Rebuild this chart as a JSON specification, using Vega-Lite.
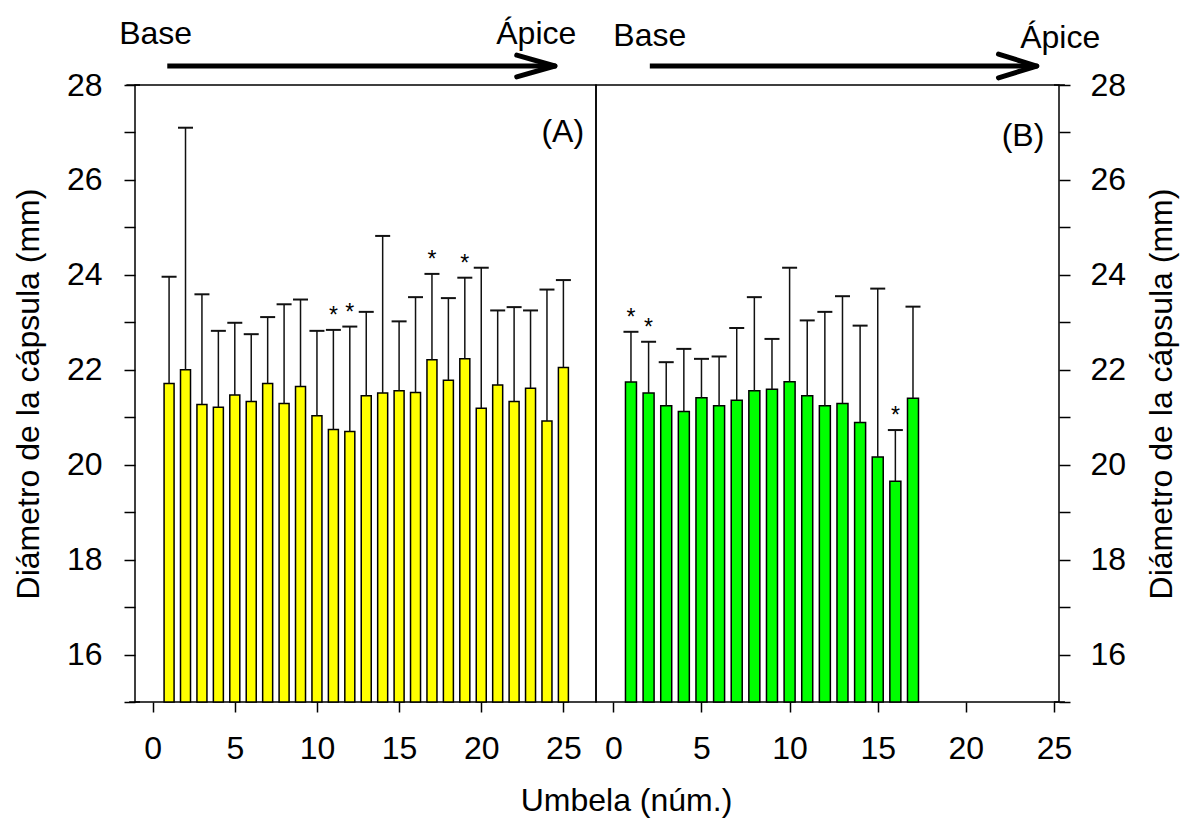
{
  "$schema": "https://vega.github.io/schema/vega-lite/v6.json",
  "background": "white",
  "padding": {"left": 11, "top": 17, "right": 5, "bottom": 5},
  "spacing": 0,
  "bounds": "flush",
  "config": {
    "view": {"stroke": "black", "strokeWidth": 1.5},
    "font": "Liberation Sans",
    "axis": {
      "grid": false, "domain": false, "tickColor": "black", "tickWidth": 1.5, "tickSize": 11,
      "labelFont": "Liberation Sans", "labelFontSize": 32, "labelColor": "black",
      "titleFont": "Liberation Sans", "titleFontSize": 32, "titleFontWeight": "normal", "titleColor": "black",
      "labelFlush": false, "labelOverlap": false
    }
  },
  "datasets": {
    "A": [
      {"umbela": 1, "media": 21.71, "sup": 23.96, "sig": false},
      {"umbela": 2, "media": 22.00, "sup": 27.10, "sig": false},
      {"umbela": 3, "media": 21.27, "sup": 23.59, "sig": false},
      {"umbela": 4, "media": 21.21, "sup": 22.82, "sig": false},
      {"umbela": 5, "media": 21.47, "sup": 22.99, "sig": false},
      {"umbela": 6, "media": 21.33, "sup": 22.75, "sig": false},
      {"umbela": 7, "media": 21.71, "sup": 23.11, "sig": false},
      {"umbela": 8, "media": 21.29, "sup": 23.38, "sig": false},
      {"umbela": 9, "media": 21.65, "sup": 23.48, "sig": false},
      {"umbela": 10, "media": 21.03, "sup": 22.82, "sig": false},
      {"umbela": 11, "media": 20.74, "sup": 22.84, "sig": true},
      {"umbela": 12, "media": 20.70, "sup": 22.91, "sig": true},
      {"umbela": 13, "media": 21.45, "sup": 23.22, "sig": false},
      {"umbela": 14, "media": 21.51, "sup": 24.82, "sig": false},
      {"umbela": 15, "media": 21.56, "sup": 23.02, "sig": false},
      {"umbela": 16, "media": 21.52, "sup": 23.53, "sig": false},
      {"umbela": 17, "media": 22.21, "sup": 24.02, "sig": true},
      {"umbela": 18, "media": 21.78, "sup": 23.51, "sig": false},
      {"umbela": 19, "media": 22.23, "sup": 23.94, "sig": true},
      {"umbela": 20, "media": 21.19, "sup": 24.15, "sig": false},
      {"umbela": 21, "media": 21.68, "sup": 23.25, "sig": false},
      {"umbela": 22, "media": 21.33, "sup": 23.32, "sig": false},
      {"umbela": 23, "media": 21.61, "sup": 23.25, "sig": false},
      {"umbela": 24, "media": 20.92, "sup": 23.69, "sig": false},
      {"umbela": 25, "media": 22.05, "sup": 23.89, "sig": false}
    ],
    "B": [
      {"umbela": 1, "media": 21.74, "sup": 22.80, "sig": true},
      {"umbela": 2, "media": 21.51, "sup": 22.59, "sig": true},
      {"umbela": 3, "media": 21.24, "sup": 22.16, "sig": false},
      {"umbela": 4, "media": 21.12, "sup": 22.44, "sig": false},
      {"umbela": 5, "media": 21.41, "sup": 22.23, "sig": false},
      {"umbela": 6, "media": 21.24, "sup": 22.28, "sig": false},
      {"umbela": 7, "media": 21.36, "sup": 22.88, "sig": false},
      {"umbela": 8, "media": 21.56, "sup": 23.53, "sig": false},
      {"umbela": 9, "media": 21.59, "sup": 22.65, "sig": false},
      {"umbela": 10, "media": 21.75, "sup": 24.15, "sig": false},
      {"umbela": 11, "media": 21.45, "sup": 23.04, "sig": false},
      {"umbela": 12, "media": 21.24, "sup": 23.22, "sig": false},
      {"umbela": 13, "media": 21.29, "sup": 23.55, "sig": false},
      {"umbela": 14, "media": 20.89, "sup": 22.93, "sig": false},
      {"umbela": 15, "media": 20.16, "sup": 23.71, "sig": false},
      {"umbela": 16, "media": 19.65, "sup": 20.73, "sig": true},
      {"umbela": 17, "media": 21.40, "sup": 23.33, "sig": false}
    ]
  },
  "hconcat": [
    {
      "width": 461,
      "height": 617,
      "data": {"name": "A"},
      "layer": [
        {
          "mark": {"type": "bar", "fill": "#FFFF00", "stroke": "black", "strokeWidth": 1.5, "size": 10},
          "encoding": {
            "x": {"field": "umbela", "type": "quantitative",
              "scale": {"domain": [-0.77, 26.68], "nice": false, "zero": false},
              "axis": {"values": [0, 5, 10, 15, 20, 25], "tickSize": 10, "labelPadding": 21,
                "title": "Umbela (núm.)", "titleX": 491, "titleY": 98, "titleBaseline": "middle", "titleAlign": "center", "titleAnchor": null}},
            "y": {"field": "media", "type": "quantitative",
              "scale": {"domain": [15, 28], "nice": false, "zero": false},
              "axis": {"values": [15, 16, 17, 18, 19, 20, 21, 22, 23, 24, 25, 26, 27, 28],
                "labelExpr": "datum.value % 2 == 0 ? datum.label : ''",
                "labelPadding": 22, "title": "Diámetro de la cápsula (mm)", "titlePadding": 21}},
            "y2": {"datum": 15}
          }
        },
        {
          "mark": {"type": "rule", "stroke": "#111111", "strokeWidth": 1.5},
          "encoding": {
            "x": {"field": "umbela", "type": "quantitative"},
            "y": {"field": "media", "type": "quantitative"},
            "y2": {"field": "sup"}
          }
        },
        {
          "mark": {"type": "rule", "stroke": "#111111", "strokeWidth": 2, "xOffset": -7.5, "x2Offset": 7.5},
          "encoding": {
            "x": {"field": "umbela", "type": "quantitative"},
            "x2": {"field": "umbela"},
            "y": {"field": "sup", "type": "quantitative"}
          }
        },
        {
          "transform": [{"filter": "datum.sig"}],
          "mark": {"type": "text", "text": "*", "fontSize": 23, "baseline": "alphabetic", "align": "center", "dy": -7, "color": "black"},
          "encoding": {
            "x": {"field": "umbela", "type": "quantitative"},
            "y": {"field": "sup", "type": "quantitative"}
          }
        },
        {
          "data": {"values": [{}]},
          "mark": {"type": "rule", "stroke": "black", "strokeWidth": 1.5},
          "encoding": {"x": {"datum": -1.43}, "x2": {"datum": -0.77}, "y": {"datum": 15}, "y2": {"datum": 15}}
        },
        {
          "data": {"values": [{}]},
          "mark": {"type": "rule", "stroke": "black", "strokeWidth": 1.5},
          "encoding": {"x": {"datum": -1.6}, "x2": {"datum": -0.77}, "y": {"datum": 28}, "y2": {"datum": 28}}
        },
        {
          "data": {"values": [{}]},
          "mark": {"type": "text", "text": "Base", "fontSize": 32, "baseline": "middle", "align": "center", "color": "black"},
          "encoding": {"x": {"datum": 0.18}, "y": {"datum": 29.07}}
        },
        {
          "data": {"values": [{}]},
          "mark": {"type": "text", "text": "Ápice", "fontSize": 32, "baseline": "middle", "align": "center", "color": "black"},
          "encoding": {"x": {"datum": 23.35}, "y": {"datum": 29.07}}
        },
        {
          "data": {"values": [{}]},
          "mark": {"type": "text", "text": "(A)", "fontSize": 32, "baseline": "middle", "align": "center", "color": "black"},
          "encoding": {"x": {"datum": 24.96}, "y": {"datum": 27.01}}
        },
        {
          "data": {"values": [{}]},
          "mark": {"type": "rule", "stroke": "black", "strokeWidth": 5},
          "encoding": {"x": {"datum": 0.89}, "x2": {"datum": 24.4}, "y": {"datum": 28.40}, "y2": {"datum": 28.40}}
        },
        {
          "data": {"values": [{}]},
          "mark": {"type": "rule", "stroke": "black", "strokeWidth": 5, "strokeCap": "round"},
          "encoding": {"x": {"datum": 22.16}, "x2": {"datum": 24.48}, "y": {"datum": 28.63}, "y2": {"datum": 28.40}}
        },
        {
          "data": {"values": [{}]},
          "mark": {"type": "rule", "stroke": "black", "strokeWidth": 5, "strokeCap": "round"},
          "encoding": {"x": {"datum": 22.16}, "x2": {"datum": 24.48}, "y": {"datum": 28.17}, "y2": {"datum": 28.40}}
        }
      ]
    },
    {
      "width": 463,
      "height": 617,
      "data": {"name": "B"},
      "layer": [
        {
          "mark": {"type": "bar", "fill": "#00FF00", "stroke": "black", "strokeWidth": 1.5, "size": 11},
          "encoding": {
            "x": {"field": "umbela", "type": "quantitative",
              "scale": {"domain": [-0.7, 25], "nice": false, "zero": false},
              "axis": {"values": [0, 5, 10, 15, 20, 25], "tickSize": 10, "labelPadding": 21, "title": null}},
            "y": {"field": "media", "type": "quantitative",
              "scale": {"domain": [15, 28], "nice": false, "zero": false},
              "axis": {"orient": "right", "values": [15, 16, 17, 18, 19, 20, 21, 22, 23, 24, 25, 26, 27, 28],
                "labelExpr": "datum.value % 2 == 0 ? datum.label : ''",
                "labelPadding": 20, "title": "Diámetro de la cápsula (mm)", "titlePadding": 21,
                "titleAngle": 270, "titleBaseline": "top"}},
            "y2": {"datum": 15}
          }
        },
        {
          "mark": {"type": "rule", "stroke": "#111111", "strokeWidth": 1.5},
          "encoding": {
            "x": {"field": "umbela", "type": "quantitative"},
            "y": {"field": "media", "type": "quantitative"},
            "y2": {"field": "sup"}
          }
        },
        {
          "mark": {"type": "rule", "stroke": "#111111", "strokeWidth": 2, "xOffset": -7.5, "x2Offset": 7.5},
          "encoding": {
            "x": {"field": "umbela", "type": "quantitative"},
            "x2": {"field": "umbela"},
            "y": {"field": "sup", "type": "quantitative"}
          }
        },
        {
          "transform": [{"filter": "datum.sig"}],
          "mark": {"type": "text", "text": "*", "fontSize": 23, "baseline": "alphabetic", "align": "center", "dy": -7, "color": "black"},
          "encoding": {
            "x": {"field": "umbela", "type": "quantitative"},
            "y": {"field": "sup", "type": "quantitative"}
          }
        },
        {
          "data": {"values": [{}]},
          "mark": {"type": "rule", "stroke": "black", "strokeWidth": 1.5},
          "encoding": {"x": {"datum": 25}, "x2": {"datum": 25.62}, "y": {"datum": 15}, "y2": {"datum": 15}}
        },
        {
          "data": {"values": [{}]},
          "mark": {"type": "rule", "stroke": "black", "strokeWidth": 1.5},
          "encoding": {"x": {"datum": 25}, "x2": {"datum": 25.62}, "y": {"datum": 28}, "y2": {"datum": 28}}
        },
        {
          "data": {"values": [{}]},
          "mark": {"type": "text", "text": "Base", "fontSize": 32, "baseline": "middle", "align": "center", "color": "black"},
          "encoding": {"x": {"datum": 2.07}, "y": {"datum": 29.03}}
        },
        {
          "data": {"values": [{}]},
          "mark": {"type": "text", "text": "Ápice", "fontSize": 32, "baseline": "middle", "align": "center", "color": "black"},
          "encoding": {"x": {"datum": 25.35}, "y": {"datum": 29.0}}
        },
        {
          "data": {"values": [{}]},
          "mark": {"type": "text", "text": "(B)", "fontSize": 32, "baseline": "middle", "align": "center", "color": "black"},
          "encoding": {"x": {"datum": 23.24}, "y": {"datum": 26.93}}
        },
        {
          "data": {"values": [{}]},
          "mark": {"type": "rule", "stroke": "black", "strokeWidth": 5},
          "encoding": {"x": {"datum": 2.07}, "x2": {"datum": 23.95}, "y": {"datum": 28.40}, "y2": {"datum": 28.40}}
        },
        {
          "data": {"values": [{}]},
          "mark": {"type": "rule", "stroke": "black", "strokeWidth": 5, "strokeCap": "round"},
          "encoding": {"x": {"datum": 21.85}, "x2": {"datum": 24.02}, "y": {"datum": 28.65}, "y2": {"datum": 28.40}}
        },
        {
          "data": {"values": [{}]},
          "mark": {"type": "rule", "stroke": "black", "strokeWidth": 5, "strokeCap": "round"},
          "encoding": {"x": {"datum": 21.85}, "x2": {"datum": 24.02}, "y": {"datum": 28.15}, "y2": {"datum": 28.40}}
        }
      ]
    }
  ]
}
